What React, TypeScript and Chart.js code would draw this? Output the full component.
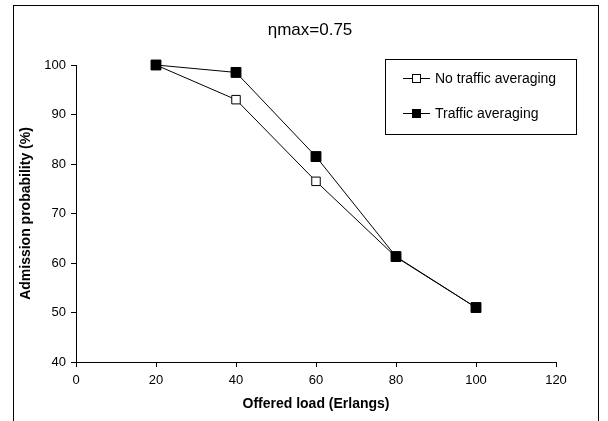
import React, { useEffect, useRef } from "react";
import { Chart, registerables } from "chart.js";

Chart.register(...registerables);

const offeredLoad = [20, 40, 60, 80, 100];
const noTrafficAveraging = [100, 93, 76.5, 61.2, 51];
const trafficAveraging = [100, 98.5, 81.5, 61.3, 51];
const seriesNames = ["No traffic averaging", "Traffic averaging"];
const chartTitle = "ηmax=0.75";
const xTitle = "Offered load (Erlangs)";
const yTitle = "Admission probability (%)";

const FONT = "'Liberation Sans', Arial, sans-serif";

const decorPlugin = {
  id: "decor",
  afterDraw(chart: any) {
    const ctx = chart.ctx;
    ctx.save();
    ctx.strokeStyle = "#000";
    ctx.lineWidth = 1;
    ctx.strokeRect(13.5, 5.5, 585, 440);
    ctx.fillStyle = "#000";
    ctx.font = `17px ${FONT}`;
    ctx.textAlign = "center";
    ctx.textBaseline = "middle";
    ctx.fillText(chartTitle, 310, 30);
    const lx = 385.5, ly = 59.5, lw = 191, lh = 75;
    ctx.fillStyle = "#fff";
    ctx.fillRect(lx, ly, lw, lh);
    ctx.strokeRect(lx, ly, lw, lh);
    const rows = [
      { y: 78, filled: false, label: seriesNames[0] },
      { y: 113, filled: true, label: seriesNames[1] },
    ];
    for (const r of rows) {
      ctx.beginPath();
      ctx.moveTo(403, r.y + 0.5);
      ctx.lineTo(430, r.y + 0.5);
      ctx.strokeStyle = "#000";
      ctx.stroke();
      if (r.filled) {
        ctx.fillStyle = "#000";
        ctx.fillRect(412, r.y - 4, 9, 9);
      } else {
        ctx.fillStyle = "#fff";
        ctx.fillRect(412.5, r.y - 3.5, 8, 8);
        ctx.strokeRect(412.5, r.y - 3.5, 8, 8);
      }
      ctx.fillStyle = "#000";
      ctx.font = `14px ${FONT}`;
      ctx.textAlign = "left";
      ctx.textBaseline = "middle";
      ctx.fillText(r.label, 435, r.y + 1);
    }
    ctx.restore();
  },
};

export default function App() {
  const ref = useRef<HTMLCanvasElement>(null);
  useEffect(() => {
    if (!ref.current) return;
    const chart = new Chart(ref.current, {
      type: "line",
      data: {
        datasets: [
          {
            label: seriesNames[0],
            data: offeredLoad.map((x, i) => ({ x, y: noTrafficAveraging[i] })),
            borderColor: "#000",
            borderWidth: 1,
            pointStyle: "rect",
            pointRadius: 6,
            pointBackgroundColor: "#fff",
            pointBorderColor: "#000",
            pointBorderWidth: 1,
            clip: false,
            order: 2,
          },
          {
            label: seriesNames[1],
            data: offeredLoad.map((x, i) => ({ x, y: trafficAveraging[i] })),
            borderColor: "#000",
            borderWidth: 1,
            pointStyle: "rect",
            pointRadius: 7,
            pointBackgroundColor: "#000",
            pointBorderColor: "#000",
            pointBorderWidth: 1,
            clip: false,
            order: 1,
          },
        ],
      },
      options: {
        animation: false,
        responsive: false,
        layout: { padding: { top: 65, right: 52, bottom: 4, left: 14 } },
        plugins: { legend: { display: false }, tooltip: { enabled: false }, title: { display: false } },
        scales: {
          x: {
            type: "linear",
            min: 0,
            max: 120,
            ticks: { stepSize: 20, color: "#000", font: { family: FONT, size: 13 }, padding: 6 },
            grid: { drawOnChartArea: false, color: "#000", tickLength: 5, tickColor: "#000" },
            border: { color: "#000", width: 1 },
            title: { display: true, text: xTitle, color: "#000", font: { family: FONT, size: 14, weight: "bold" }, padding: { top: 6 } },
            afterFit: (s: any) => { s.height = 55; },
          },
          y: {
            min: 40,
            max: 100,
            ticks: { stepSize: 10, color: "#000", font: { family: FONT, size: 13 }, padding: 5 },
            grid: { drawOnChartArea: false, color: "#000", tickLength: 5, tickColor: "#000" },
            border: { color: "#000", width: 1 },
            title: { display: true, text: yTitle, color: "#000", font: { family: FONT, size: 14, weight: "bold" }, padding: { bottom: 10 } },
            afterFit: (s: any) => { s.width = 62; },
          },
        },
      },
      plugins: [decorPlugin],
    } as any);
    return () => chart.destroy();
  }, []);
  return (
    <div style={{ position: "absolute", left: 0, top: 0, width: 608, height: 421, background: "#fff" }}>
      <canvas ref={ref} width={608} height={421} style={{ width: 608, height: 421, display: "block" }} />
    </div>
  );
}
